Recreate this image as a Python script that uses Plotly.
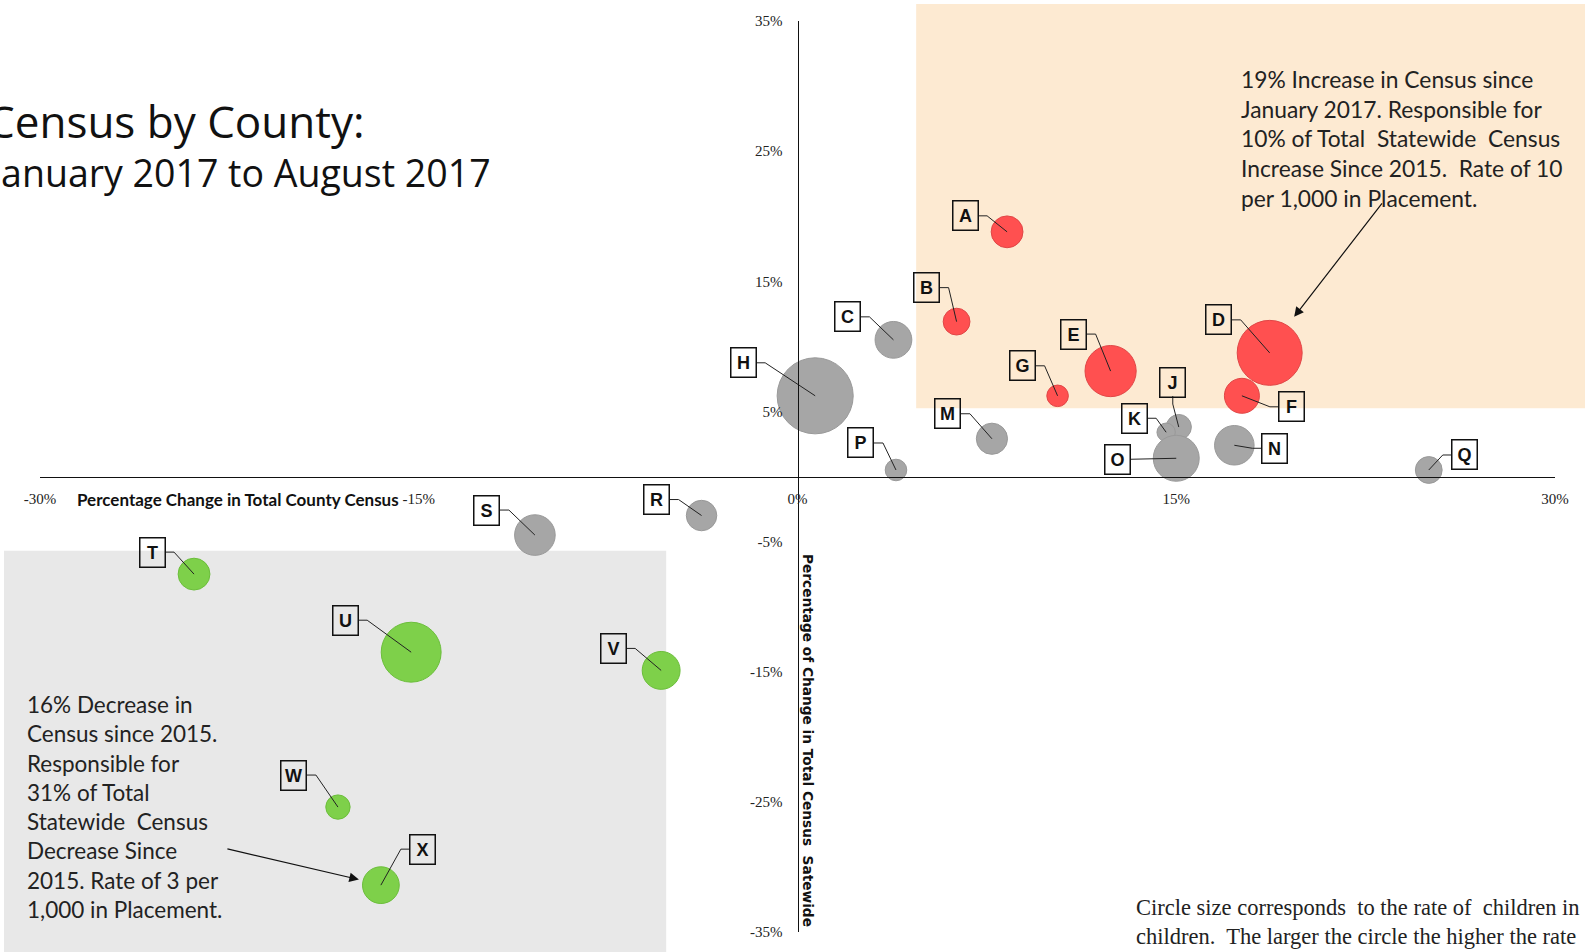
import plotly.graph_objects as go

# ---------------- data ----------------
counties = ["A", "B", "C", "D", "E", "F", "G", "H", "J", "K", "M", "N",
            "O", "P", "Q", "R", "S", "T", "U", "V", "W", "X"]
county_change = [8.3, 6.3, 3.8, 18.7, 12.4, 17.6, 10.3, 0.7, 15.1, 14.6, 7.7, 17.3,
                 15.0, 3.9, 25.0, -3.8, -10.4, -23.9, -15.3, -5.4, -18.2, -16.5]
statewide_change = [18.8, 11.9, 10.5, 9.5, 8.1, 6.2, 6.2, 6.2, 3.8, 3.4, 2.9, 2.4,
                    1.4, 0.5, 0.5, -3.0, -4.5, -7.5, -13.5, -14.9, -25.4, -31.4]
rate_per_1000 = [2.4, 1.7, 3.2, 10.0, 6.2, 2.9, 1.1, 13.7, 1.5, 0.8, 2.3, 3.7,
                 5.0, 1.1, 1.7, 2.2, 3.9, 2.4, 8.5, 3.4, 1.4, 3.2]
group = ["up", "up", "mid", "up", "up", "up", "up", "mid", "mid", "mid", "mid", "mid",
         "mid", "mid", "mid", "mid", "mid", "down", "down", "down", "down", "down"]

x_ticks = [-30, -15, 0, 15, 30]
x_tick_labels = ["-30%", "-15%", "0%", "15%", "30%"]
y_ticks = [35, 25, 15, 5, -5, -15, -25, -35]
y_tick_labels = ["35%", "25%", "15%", "5%", "-5%", "-15%", "-25%", "-35%"]

# label box offsets from bubble centre (pixels, screen direction)
label_dx = [-42, -30, -46, -51, -37, 50, -35, -72, -6, -32, -44, 40,
            -59, -35, 36, -45, -48, -42, -66, -48, -44, 42]
label_dy = [-16, -34, -23, -33, -37, 11, -30, -33, -45, -14, -25, 3,
            1, -27, -15, -16, -25, -22, -32, -22, -32, -36]

# ---------------- layout constants ----------------
W, H = 1585, 952
ML, MR, MT, MB = 40, 30, 21, 20
XR = (-30, 30)
YR = (-35, 35)
PW, PH = W - ML - MR, H - MT - MB
SX = PW / (XR[1] - XR[0])
SY = PH / (YR[1] - YR[0])


def px(xp):
    return (xp - ML) / PW


def py(yp):
    return (H - MB - yp) / PH


def dx2paper(v):
    return (v - XR[0]) / (XR[1] - XR[0])


def dy2paper(v):
    return (v - YR[0]) / (YR[1] - YR[0])


styles = {
    "up": dict(fill="#FF5050", line="#E04646"),
    "mid": dict(fill="#A6A6A6", line="#999999"),
    "down": dict(fill="#7ED04A", line="#6BBE3A"),
}

SIZEREF = 2 * 10.0 / 65 ** 2

fig = go.Figure()

# leader lines
lx, ly = [], []
HW, HH = 13, 14
for i, c in enumerate(counties):
    x0, y0 = county_change[i], statewide_change[i]
    dx, dy = label_dx[i], label_dy[i]
    if abs(dx) > HW + 4:
        s = 1 if dx > 0 else -1
        ex = dx - s * HW
        elx = ex - s * 9
        pts = [(0, 0), (elx, dy), (ex, dy)]
    else:
        ey = dy + HH
        pts = [(0, 0), (dx, ey + 8), (dx, ey)]
    for (a, b) in pts:
        lx.append(x0 + a / SX)
        ly.append(y0 - b / SY)
    lx.append(None)
    ly.append(None)

for g in ["mid", "up", "down"]:
    idx = [i for i, v in enumerate(group) if v == g]
    fig.add_trace(go.Scatter(
        x=[county_change[i] for i in idx],
        y=[statewide_change[i] for i in idx],
        mode="markers",
        marker=dict(size=[rate_per_1000[i] for i in idx], sizemode="area",
                    sizeref=SIZEREF, color=styles[g]["fill"], opacity=1,
                    line=dict(color=styles[g]["line"], width=1)),
        text=[counties[i] for i in idx],
        hoverinfo="text", showlegend=False,
    ))

fig.add_trace(go.Scatter(x=lx, y=ly, mode="lines",
                         line=dict(color="#222222", width=1),
                         hoverinfo="skip", showlegend=False))

shapes = [
    dict(type="rect", xref="paper", yref="paper", layer="below",
         x0=dx2paper(4.7), x1=1.03, y0=dy2paper(5.25), y1=py(4),
         fillcolor="#FDEAD2", line=dict(width=0)),
    dict(type="rect", xref="paper", yref="paper", layer="below",
         x0=px(4), x1=dx2paper(-5.2), y0=-0.03, y1=dy2paper(-5.7),
         fillcolor="#E8E8E8", line=dict(width=0)),
]

annotations = []
for i, c in enumerate(counties):
    annotations.append(dict(
        x=county_change[i], y=statewide_change[i], xref="x", yref="y",
        xshift=label_dx[i], yshift=-label_dy[i], text="<b>%s</b>" % c,
        showarrow=False, font=dict(family="Liberation Sans", size=18, color="#111"),
        bordercolor="#111", borderwidth=1.5, borderpad=0, width=24, height=28,
        bgcolor="rgba(0,0,0,0)", align="center", valign="middle"))

# titles and notes
annotations += [
    dict(x=px(-15), y=py(121), xref="paper", yref="paper", xanchor="left",
         yanchor="middle", showarrow=False, text="Census by County:",
         font=dict(family="Open Sans", size=44, color="#111")),
    dict(x=px(-14), y=py(172), xref="paper", yref="paper", xanchor="left",
         yanchor="middle", showarrow=False, text="January 2017 to August 2017",
         font=dict(family="Open Sans", size=37.5, color="#111")),
    dict(x=px(75), y=py(499), xref="paper", yref="paper", xanchor="left",
         yanchor="middle", showarrow=False,
         text="<b>Percentage Change in Total County Census</b>",
         font=dict(family="Lato", size=17, color="#111")),
    dict(x=px(808), y=py(740), xref="paper", yref="paper", xanchor="center",
         yanchor="middle", showarrow=False, textangle=90,
         text="<b>Percentage of Change in Total Census  Satewide</b>",
         font=dict(family="DejaVu Sans", size=13.7, color="#111")),
    dict(x=px(1239), y=py(138), xref="paper", yref="paper", xanchor="left",
         yanchor="middle", showarrow=False, align="left",
         text=("19% Increase in Census since<br>January 2017. Responsible for<br>"
               "10% of Total  Statewide  Census<br>Increase Since 2015.  Rate of 10<br>"
               "per 1,000 in Placement."),
         font=dict(family="Lato", size=22.8, color="#222")),
    dict(x=px(25), y=py(807), xref="paper", yref="paper", xanchor="left",
         yanchor="middle", showarrow=False, align="left",
         text=("16% Decrease in<br>Census since 2015.<br>Responsible for<br>31% of Total<br>"
               "Statewide  Census<br>Decrease Since<br>2015. Rate of 3 per<br>1,000 in Placement."),
         font=dict(family="Lato", size=22.5, color="#222")),
    dict(x=px(1134), y=py(922), xref="paper", yref="paper", xanchor="left",
         yanchor="middle", showarrow=False, align="left",
         text=("Circle size corresponds  to the rate of  children in<br>"
               "children.  The larger the circle the higher the rate"),
         font=dict(family="Liberation Serif", size=22.5, color="#222")),
    # arrows
    dict(x=19.67, y=12.27, xref="x", yref="y", ax=89, ay=-115, text="",
         showarrow=True, arrowhead=2, arrowsize=1.6, arrowwidth=1.2, arrowcolor="#111"),
    dict(x=-17.37, y=-30.97, xref="x", yref="y", ax=-133, ay=-31, text="",
         showarrow=True, arrowhead=2, arrowsize=1.6, arrowwidth=1.2, arrowcolor="#111"),
]

fig.update_layout(
    width=W, height=H, margin=dict(l=ML, r=MR, t=MT, b=MB),
    paper_bgcolor="white", plot_bgcolor="rgba(0,0,0,0)",
    shapes=shapes, annotations=annotations, showlegend=False,
    xaxis=dict(range=list(XR), anchor="free", position=0.5, showgrid=False,
               zeroline=False, showline=True, linecolor="#111", linewidth=1,
               tickvals=x_ticks, ticktext=x_tick_labels, ticks="",
               ticklabelstandoff=8,
               tickfont=dict(family="Liberation Serif", size=15, color="#222")),
    yaxis=dict(range=list(YR), anchor="free", position=0.5, showgrid=False,
               zeroline=False, showline=True, linecolor="#111", linewidth=1,
               tickvals=y_ticks, ticktext=y_tick_labels, ticks="",
               ticklabelstandoff=12,
               tickfont=dict(family="Liberation Serif", size=15, color="#222")),
)

fig.write_html("out.html", config={"displayModeBar": False},
               post_script="document.body.style.margin='0';document.body.style.overflow='hidden';")
